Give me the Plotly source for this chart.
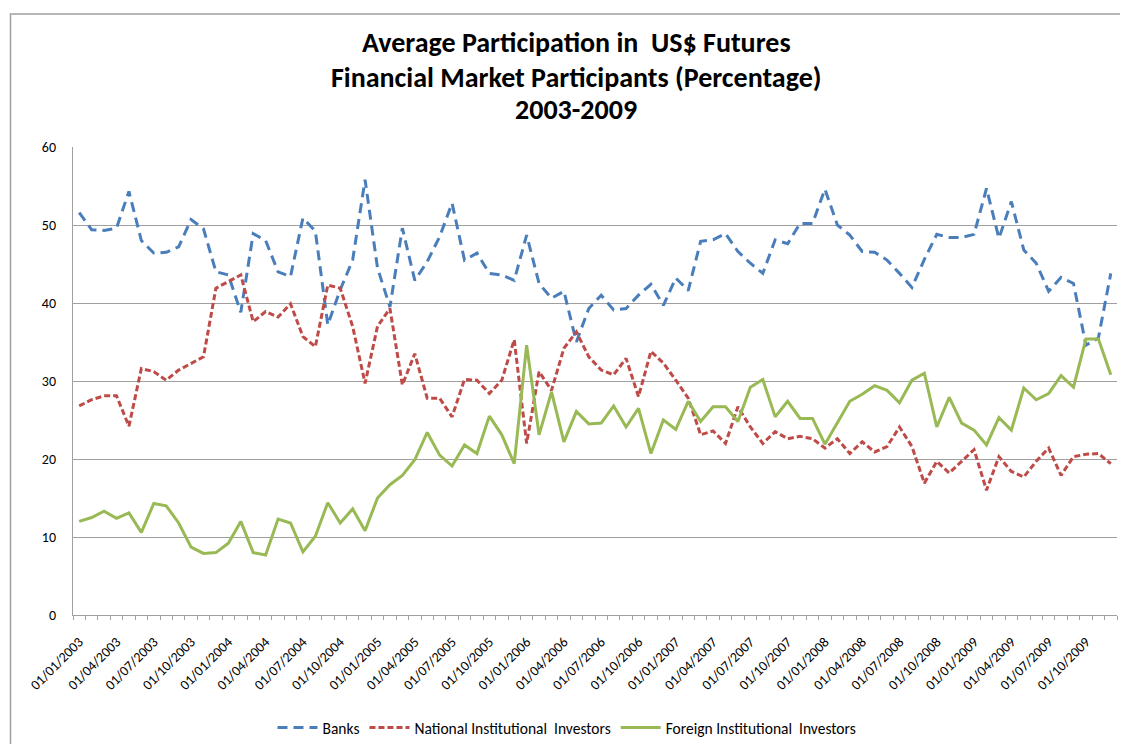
import plotly.graph_objects as go

years = [2003, 2004, 2005, 2006, 2007, 2008, 2009]
months = ["01", "02", "03", "04", "05", "06", "07", "08", "09", "10", "11", "12"]
dates = [f"01/{m}/{y}" for y in years for m in months]
label_dates = [d for i, d in enumerate(dates) if i % 3 == 0]

banks = [51.6, 49.4, 49.3, 49.6, 54.3, 48.0, 46.4, 46.5, 47.2, 50.7, 49.5, 44.0,
         43.6, 38.8, 48.9, 48.0, 44.0, 43.4, 50.9, 49.2, 37.2, 41.7, 45.5, 55.8,
         44.5, 39.5, 49.6, 42.9, 45.3, 48.5, 52.8, 45.5, 46.4, 43.8, 43.6, 42.9,
         48.7, 42.5, 40.6, 41.5, 35.0, 39.3, 41.0, 39.1, 39.3, 41.0,
         42.4, 39.7, 43.2, 41.6, 47.9, 48.1, 48.9, 46.6, 45.1, 43.8, 48.1, 47.6,
         50.2, 50.2, 54.6, 50.0, 48.7, 46.6, 46.5, 45.5, 43.8, 42.0,
         45.6, 48.8, 48.4, 48.4, 48.8, 54.7, 48.3, 53.0, 46.8, 45.1, 41.5, 43.3,
         42.5, 34.6, 35.5, 43.8]

national = [26.8, 27.6, 28.1, 28.1, 24.2, 31.6, 31.2, 30.1, 31.4, 32.3, 33.1, 41.9,
            42.7, 43.6, 37.6, 38.9, 38.2, 39.9, 35.7, 34.4, 42.3, 41.9, 37.0, 29.7,
            37.0, 39.3, 29.5, 33.5, 27.8, 27.8, 25.4, 30.2, 30.1, 28.4, 30.1, 35.3,
            22.0, 31.2, 28.8, 34.2, 36.3, 33.1, 31.4, 30.8, 32.9, 28.0,
            33.8, 32.3, 30.1, 27.8, 23.1, 23.6, 22.0, 26.7, 24.1, 22.0, 23.5, 22.6,
            22.9, 22.6, 21.4, 22.6, 20.7, 22.2, 20.9, 21.6, 24.1, 21.6,
            16.9, 19.7, 18.2, 19.7, 21.2, 16.0, 20.3, 18.4, 17.7, 19.7, 21.4, 17.9,
            20.3, 20.6, 20.7, 19.4]

foreign = [12.0, 12.5, 13.3, 12.4, 13.1, 10.6, 14.3, 14.0, 11.8, 8.7, 7.9, 8.0,
           9.2, 12.0, 8.0, 7.7, 12.3, 11.8, 8.1, 10.1, 14.4, 11.8, 13.6, 10.8,
           15.0, 16.7, 17.9, 19.9, 23.4, 20.5, 19.1, 21.8, 20.7, 25.5, 23.1, 19.4,
           34.6, 23.1, 28.6, 22.2, 26.1, 24.5, 24.6, 26.8, 24.1, 26.5,
           20.7, 25.0, 23.8, 27.4, 24.8, 26.7, 26.7, 24.8, 29.2, 30.2, 25.4, 27.4,
           25.2, 25.2, 21.9, 24.6, 27.4, 28.3, 29.4, 28.8, 27.2, 30.1,
           31.0, 24.1, 27.9, 24.6, 23.7, 21.8, 25.3, 23.7, 29.1, 27.6, 28.4, 30.7,
           29.2, 35.4, 35.4, 30.8]

series_names = ["Banks", "National Institutional  Investors", "Foreign Institutional  Investors"]
title_lines = ["Average Participation in  US$ Futures",
               "Financial Market Participants (Percentage)",
               "2003-2009"]

FONT = "Carlito, Calibri, Lato, sans-serif"

fig = go.Figure()
fig.add_trace(go.Scatter(x=dates, y=banks, mode="lines", name=series_names[0],
                         line=dict(color="#4a7ebb", width=3, dash="10px,6px")))
fig.add_trace(go.Scatter(x=dates, y=national, mode="lines", name=series_names[1],
                         line=dict(color="#be4b48", width=3, dash="6px,3px")))
fig.add_trace(go.Scatter(x=dates, y=foreign, mode="lines", name=series_names[2],
                         line=dict(color="#98b954", width=3)))

# page body has an 8px margin; figure coordinates = screen - 8
OFF = 8
W, H = 1120, 736
L, T = 73 - OFF, 147 - OFF
R = W - (1117 - OFF)
B = H - (615 - OFF)
pw, ph = W - L - R, H - T - B

def px_x(p):  # screen px -> paper
    return (p - OFF - L) / pw

def px_y(p):
    return (H - B - (p - OFF)) / ph

title_y = [43, 77, 109]
annotations = [dict(text=f"<b>{t}</b>", xref="paper", yref="paper",
                    x=px_x(576), y=px_y(yy), xanchor="center", yanchor="middle",
                    showarrow=False, font=dict(size=28, family=FONT))
               for t, yy in zip(title_lines, title_y)]

fig.update_layout(
    width=W, height=H,
    margin=dict(l=L, r=R, t=T, b=B, autoexpand=False),
    paper_bgcolor="white", plot_bgcolor="white",
    font=dict(family=FONT, size=13, color="#000000"),
    showlegend=True,
    legend=dict(orientation="h", x=px_x(567), xanchor="center", y=px_y(728), yanchor="middle",
                font=dict(size=15.5), itemwidth=40, tracegroupgap=0),
    xaxis=dict(type="category", categoryorder="array", categoryarray=dates,
               tickmode="array", tickvals=dates,
               ticktext=[d if d in label_dates else "" for d in dates],
               tickangle=-45, tickson="boundaries", ticks="outside", ticklen=4,
               tickcolor="#a0a0a0", showline=True, linecolor="#a0a0a0", linewidth=1.3,
               showgrid=False, zeroline=False, tickfont=dict(size=14),
               automargin=False, ticklabelstandoff=12,
               range=[-0.5, len(dates) - 0.5]),
    yaxis=dict(range=[0, 60], dtick=10, showgrid=True, gridcolor="#a0a0a0", gridwidth=1.3,
               showline=True, linecolor="#a0a0a0", linewidth=1.3, zeroline=False,
               ticks="", ticklabelstandoff=13, tickfont=dict(size=14), automargin=False),
    annotations=annotations,
    shapes=[dict(type="rect", xref="paper", yref="paper",
                 x0=px_x(10.5), x1=px_x(1140), y0=px_y(760), y1=px_y(14),
                 line=dict(color="#a0a0a0", width=1.5), fillcolor="rgba(0,0,0,0)", layer="below")],
)

fig.write_html("out.html")
